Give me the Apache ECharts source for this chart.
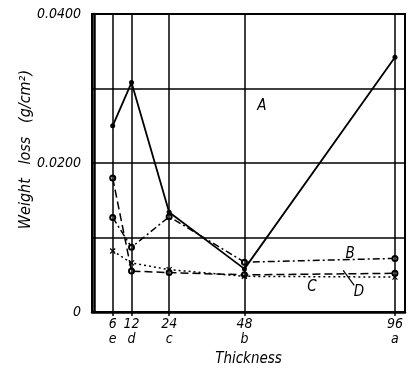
<!DOCTYPE html>
<html><head><meta charset="utf-8">
<script src="https://cdn.jsdelivr.net/npm/echarts@6/dist/echarts.min.js"></script>
<style>html,body{margin:0;padding:0;background:#fff}#c{width:413px;height:372px}</style>
</head><body><div id="c"></div>
<script>
var thickness = [6, 12, 24, 48, 96];
var letters = ['e', 'd', 'c', 'b', 'a'];
var seriesA = [0.0250, 0.0308, 0.0134, 0.0058, 0.0342];
var seriesB = [0.0127, 0.0087, 0.0128, 0.0067, 0.0072];
var seriesC = [0.0180, 0.0055, 0.0053, 0.0050, 0.0052];
var seriesD = [0.0082, 0.0066, 0.0057, 0.0048, 0.0047];
var yTickLabels = {'0': '0', '0.02': '0.0200', '0.04': '0.0400'};

var FONT = '"Liberation Sans Narrow","DejaVu Sans Condensed",sans-serif';
function pairs(v){ return thickness.map(function(x,i){ return [x, v[i]]; }); }
var crossPath = 'path://M0,0L10,10M10,0L0,10';
function tag(text, coord){
  return {
    symbol: 'circle', symbolSize: 1, silent: true,
    itemStyle: {color: 'rgba(0,0,0,0)'},
    label: {show: true, position: 'inside', formatter: text, color: '#000', fontFamily: FONT, fontStyle: 'italic', fontSize: 15},
    data: [{coord: coord}]
  };
}

var chart = echarts.init(document.getElementById('c'), null, {renderer:'canvas'});
chart.setOption({
  animation: false,
  backgroundColor: '#fff',
  grid: {left: 92, right: 8, top: 14, bottom: 59, show: true, borderColor: '#000', borderWidth: 2, backgroundColor: 'transparent'},
  xAxis: {
    type: 'value', min: -0.6, max: 99.2,
    name: 'Thickness', nameLocation: 'middle', nameGap: 36,
    nameTextStyle: {fontFamily: FONT, fontStyle: 'italic', fontSize: 15, color: '#000'},
    axisLine: {show: true, lineStyle: {color: '#000', width: 2.5}},
    axisTick: {show: true, customValues: thickness, length: 4, lineStyle: {color: '#000', width: 1.5}},
    splitLine: {show: false},
    axisLabel: {
      customValues: thickness, margin: 5, color: '#000',
      fontFamily: FONT, fontStyle: 'italic', fontSize: 14, lineHeight: 15,
      formatter: function(v){ var i = thickness.indexOf(v); return v + '\n' + letters[i]; }
    }
  },
  yAxis: {
    type: 'value', min: 0, max: 0.04, interval: 0.01,
    axisLine: {show: true, lineStyle: {color: '#000', width: 2.5}},
    axisTick: {show: false},
    splitLine: {show: true, lineStyle: {color: '#000', width: 1.5}},
    axisLabel: {
      margin: 11, color: '#000', fontFamily: FONT, fontStyle: 'italic', fontSize: 14,
      formatter: function(v){ var k = String(Math.round(v*100)/100); return yTickLabels[k] !== undefined ? yTickLabels[k] : ''; }
    }
  },
  graphic: [{
    type: 'text', left: 18, top: 70,
    rotation: Math.PI/2,
    style: {text: 'Weight   loss   (g/cm²)', fontFamily: FONT, fontStyle: 'italic', fontSize: 16, fill: '#000'}
  }],
  series: [
    {
      name: 'A', type: 'line', data: pairs(seriesA),
      symbol: 'circle', symbolSize: 5,
      itemStyle: {color: '#000'}, lineStyle: {color: '#000', width: 1.8},
      markLine: {
        silent: true, symbol: 'none', label: {show: false},
        lineStyle: {color: '#000', width: 1.5, type: 'solid'},
        data: thickness.map(function(x){ return {xAxis: x}; })
      },
      markPoint: tag('A', [53.6, 0.0276])
    },
    {
      name: 'B', type: 'line', data: pairs(seriesB),
      symbol: 'emptyCircle', symbolSize: 5,
      itemStyle: {color: '#000', borderColor: '#000', borderWidth: 1.2},
      lineStyle: {color: '#000', width: 1.5, type: [7, 3, 2, 3]},
      markPoint: tag('B', [81.7, 0.0078])
    },
    {
      name: 'C', type: 'line', data: pairs(seriesC),
      symbol: 'emptyCircle', symbolSize: 5,
      itemStyle: {color: '#000', borderColor: '#000', borderWidth: 1.2},
      lineStyle: {color: '#000', width: 1.5, type: [8, 4]},
      markPoint: tag('C', [69.5, 0.0033])
    },
    {
      name: 'D', type: 'line', data: pairs(seriesD),
      symbol: crossPath, symbolSize: 5,
      itemStyle: {color: '#000', borderColor: '#000', borderWidth: 1.2},
      lineStyle: {color: '#000', width: 1.5, type: [2, 3]},
      markLine: {
        silent: true, symbol: 'none', label: {show: false},
        lineStyle: {color: '#000', width: 1.2, type: 'solid'},
        data: [[{coord: [79.5, 0.0056]}, {coord: [83.0, 0.0036]}]]
      },
      markPoint: tag('D', [84.5, 0.0027])
    }
  ]
});
</script></body></html>
